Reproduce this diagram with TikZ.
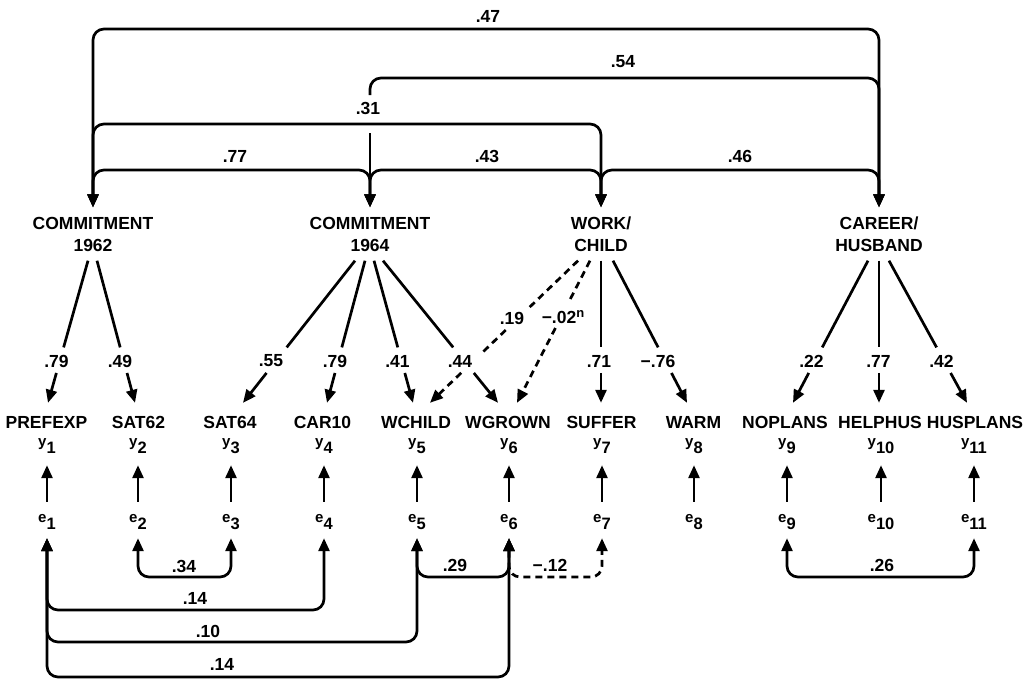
\documentclass[tikz,border=0pt]{standalone}
\usepackage{fontspec}
\setmainfont{Liberation Sans}
\usetikzlibrary{arrows.meta,calc}
\newcommand\ldarrow[8]{%
  \coordinate (#1s) at ([xshift=#3pt]#2.south);
  \coordinate (#1t) at ([xshift=#5pt]#4.north);
  \draw[conn,#6] (#1s) -- ($(#1s)!#7!(#1t)$);
  \draw[conn,#6,->] ($(#1s)!#8!(#1t)$) -- (#1t);
}
\newcommand\ysb[2]{{\fontsize{15}{15}\selectfont #1}\raisebox{-7pt}{\fontsize{16.5}{16.5}\selectfont #2}}
\begin{document}
\begin{tikzpicture}[x=1pt,y=-1pt,
  every node/.style={font=\fontsize{17.5}{22}\selectfont\bfseries,inner sep=0pt},
  conn/.style={line width=2.7pt},
  >={Triangle[length=13pt,width=11pt]},
  lat/.style={align=center,minimum height=53pt},
  ind/.style={anchor=base,text height=25pt,text depth=0pt},
  yv/.style={anchor=base,text height=12pt,text depth=19pt},
  ev/.style={anchor=base,text height=20pt,text depth=16pt},
  dsh/.style={dash pattern=on 7pt off 5pt},
  rc/.style={rounded corners=11pt}]
\useasboundingbox (0,0) rectangle (1031,683);

% latent variables
\node[lat] (C62) at (93,234) {COMMITMENT\\1962};
\node[lat] (C64) at (370,234) {COMMITMENT\\1964};
\node[lat] (WC) at (601,234) {WORK/\\CHILD};
\node[lat] (CH) at (879,234) {CAREER/\\HUSBAND};

% indicators
\node[ind] (PREFEXP) at (46.5,428) {PREFEXP};
\node[ind] (SAT62) at (138.5,428) {SAT62};
\node[ind] (SAT64) at (230,428) {SAT64};
\node[ind] (CAR10) at (322.5,428) {CAR10};
\node[ind] (WCHILD) at (416,428) {WCHILD};
\node[ind] (WGROWN) at (508,428) {WGROWN};
\node[ind] (SUFFER) at (601.5,428) {SUFFER};
\node[ind] (WARM) at (693.5,428) {WARM};
\node[ind] (NOPLANS) at (785,428) {NOPLANS};
\node[ind] (HELPHUS) at (880,428) {HELPHUS};
\node[ind] (HUSPLANS) at (975,428) {HUSPLANS};

% y and e
\foreach \i/\x in {1/47,2/138,3/231,4/324,5/417,6/509,7/602,8/694,9/787,10/881,11/974}{
  \node[yv] (y\i) at (\x,446) {\ysb{y}{\i}};
  \node[ev] (e\i) at (\x,522) {\ysb{e}{\i}};
  \draw[conn,->] (e\i) -- (y\i);
}

% levels
\coordinate (h47) at (0,29);
\coordinate (h54) at (0,78);
\coordinate (h31) at (0,124);
\coordinate (h77) at (0,170);
\coordinate (b1) at (0,577);
\coordinate (b2) at (0,610);
\coordinate (b3) at (0,642);
\coordinate (b4) at (0,677);
\coordinate (k54) at (370,95);
\coordinate (k54b) at (370,133);

% latent correlations
\draw[conn,<->,rc] (C62.north) -- (C62.north |- h47) -- (CH.north |- h47) -- (CH.north);
\draw[conn,->,rc] (k54) -- (k54 |- h54) -- (CH.north |- h54) -- (CH.north);
\draw[conn,->] (k54b) -- (C64.north);
\draw[conn,<->,rc] (C62.north) -- (C62.north |- h31) -- (WC.north |- h31) -- (WC.north);
\draw[conn,<->,rc] (C62.north) -- (C62.north |- h77) -- (C64.north |- h77) -- (C64.north);
\draw[conn,<->,rc] (C64.north) -- (C64.north |- h77) -- (WC.north |- h77) -- (WC.north);
\draw[conn,<->,rc] (WC.north) -- (WC.north |- h77) -- (CH.north |- h77) -- (CH.north);

\node (l47) at (488,16) {.47};
\node (l54) at (623,62) {.54};
\node (l31) at (368,108) {.31};
\node (l77) at (235,156) {.77};
\node (l43) at (487,156) {.43};
\node (l46) at (740,156) {.46};

% loadings
\ldarrow{a1}{C62}{-5}{PREFEXP}{1.5}{}{0.61}{0.79}
\ldarrow{a2}{C62}{4}{SAT62}{-3.5}{}{0.61}{0.79}
\ldarrow{b1}{C64}{-15}{SAT64}{13}{}{0.61}{0.79}
\ldarrow{b2}{C64}{-5}{CAR10}{4.5}{}{0.61}{0.79}
\ldarrow{b3}{C64}{4}{WCHILD}{-3}{}{0.61}{0.79}
\ldarrow{b4}{C64}{13}{WGROWN}{-10}{}{0.61}{0.79}
\ldarrow{c3}{WC}{0}{SUFFER}{-0.5}{}{0.61}{0.79}
\ldarrow{c4}{WC}{12}{WARM}{-6.5}{}{0.61}{0.79}
\ldarrow{d1}{CH}{-11}{NOPLANS}{8}{}{0.61}{0.79}
\ldarrow{d2}{CH}{0}{HELPHUS}{-1}{}{0.61}{0.79}
\ldarrow{d3}{CH}{10}{HUSPLANS}{-8}{}{0.61}{0.79}
\ldarrow{c2}{WC}{-11}{WGROWN}{9}{dsh}{0.277}{0.474}
% dashed WORK/CHILD -> WCHILD with two gaps
\coordinate (c1s) at ([xshift=-23pt]WC.south);
\coordinate (c1t) at ([xshift=14pt]WCHILD.north);
\draw[conn,dsh] (c1s) -- ($(c1s)!0.333!(c1t)$);
\draw[conn,dsh] ($(c1s)!0.488!(c1t)$) -- ($(c1s)!0.649!(c1t)$);
\draw[conn,dsh,->] ($(c1s)!0.789!(c1t)$) -- (c1t);

\node (m1) at (56.5,361) {.79};
\node (m2) at (120,361) {.49};
\node (m3) at (271,361) {.55};
\node (m4) at (335,361) {.79};
\node (m5) at (397.5,361) {.41};
\node (m6) at (460,361) {.44};
\node (m7) at (512,318) {.19};
\node (m8) at (563,317) {−.02\raisebox{6pt}{\fontsize{13}{13}\selectfont n}};
\node (m9) at (599,361) {.71};
\node (m10) at (658,361) {−.76};
\node (m11) at (811.5,361) {.22};
\node (m12) at (878.5,361) {.77};
\node (m13) at (941.5,361) {.42};

% error covariances
\draw[conn,<->,rc] (e2.south) -- (e2.south |- b1) -- (e3.south |- b1) -- (e3.south);
\draw[conn,<->,rc] (e1.south) -- (e1.south |- b2) -- (e4.south |- b2) -- (e4.south);
\draw[conn,<->,rc] (e1.south) -- (e1.south |- b3) -- (e5.south |- b3) -- (e5.south);
\draw[conn,<->,rc] (e1.south) -- (e1.south |- b4) -- (e6.south |- b4) -- (e6.south);
\draw[conn,<->,rc] (e5.south) -- (e5.south |- b1) -- (e6.south |- b1) -- (e6.south);
\draw[conn,dsh,<->,rc] (e6.south) -- (e6.south |- b1) -- (e7.south |- b1) -- (e7.south);
\draw[conn,<->,rc] (e9.south) -- (e9.south |- b1) -- (e11.south |- b1) -- (e11.south);

\node (n34) at (184,566) {.34};
\node (n14a) at (195,598) {.14};
\node (n10) at (208,631) {.10};
\node (n14b) at (222,664) {.14};
\node (n29) at (455,565) {.29};
\node (n12) at (550,565) {−.12};
\node (n26) at (882,565) {.26};
\end{tikzpicture}
\end{document}
